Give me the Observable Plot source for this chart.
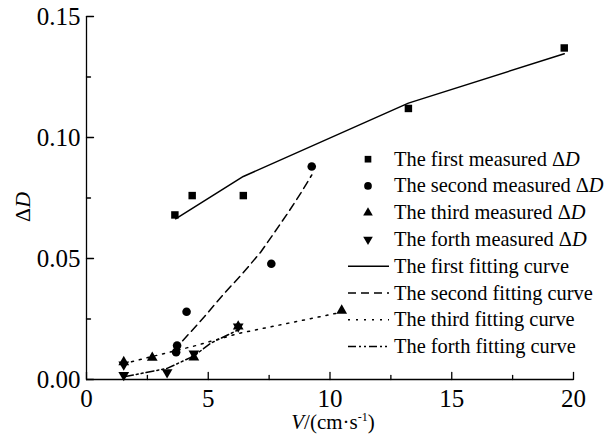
<!DOCTYPE html>
<html><head><meta charset="utf-8">
<script src="https://cdn.jsdelivr.net/npm/d3@7"></script>
<script src="https://cdn.jsdelivr.net/npm/@observablehq/plot@0.6"></script>
<style>html,body{margin:0;padding:0;background:#fff} svg{display:block}</style>
</head><body><div id="chart"></div>
<script>
// ---- data ----
const firstV  = [3.63, 4.34, 6.44, 13.22, 19.62];
const firstD  = [0.068, 0.076, 0.076, 0.112, 0.137];
const secondV = [3.68, 3.72, 4.11, 7.59, 9.25];
const secondD = [0.0113, 0.0140, 0.0280, 0.0478, 0.0880];
const thirdV  = [1.53, 2.70, 4.41, 6.23, 10.48];
const thirdD  = [0.0072, 0.0090, 0.0091, 0.0219, 0.0285];
const forthV  = [1.53, 1.53, 3.31, 4.41, 6.23];
const forthD  = [0.0062, 0.0018, 0.0030, 0.0107, 0.0219];

const fit1V = [3.66, 6.44, 13.22, 19.62];
const fit1D = [0.0664, 0.0839, 0.1142, 0.1346];
const fit2V = [3.95, 4.82, 5.64, 6.40, 7.15, 7.70, 8.25, 8.80, 9.25];
const fit2D = [0.0160, 0.0257, 0.0354, 0.0437, 0.0526, 0.0605, 0.0685, 0.0770, 0.0845];
const fit3V = [1.53, 2.70, 4.41, 6.23, 10.48];
const fit3D = [0.0065, 0.0095, 0.0138, 0.0190, 0.0278];
const fit4V = [1.60, 3.31, 4.41, 5.10, 6.23];
const fit4D = [0.0012, 0.0046, 0.0097, 0.0150, 0.0205];

const xTicks = [0, 5, 10, 15, 20];
const xMinor = [2.5, 7.5, 12.5, 17.5];
const yTicks = [0, 0.05, 0.10, 0.15];
const yMinor = [0.025, 0.075, 0.125];

const measuredNames = ["The first measured \u0394", "The second measured \u0394", "The third measured \u0394", "The forth measured \u0394"];
const fittingNames = ["The first fitting curve", "The second fitting curve", "The third fitting curve", "The forth fitting curve"];

// ---- helpers ----
const zipXY = (xs, ys) => xs.map((v, i) => ({v, d: ys[i]}));
const s3 = Math.sqrt(3);
const triangleDown = {draw(ctx, size) {
  const y = -Math.sqrt(size / (s3 * 3));
  ctx.moveTo(0, -y * 2); ctx.lineTo(-s3 * y, y); ctx.lineTo(s3 * y, y); ctx.closePath();
}};
const tickUp = {draw(ctx, l) { ctx.moveTo(0, 0); ctx.lineTo(0, -l); }};

const FONT = "'Liberation Serif', 'Times New Roman', serif";
const dashes = [null, "8,5", "2,6", "8,3,2,3,2,3"];
const symbols = [d3.symbolSquare, d3.symbolCircle, d3.symbolTriangle, triangleDown];
const radii = [4.2, 4.3, 4.0, 4.0];
const measured = [[firstV, firstD], [secondV, secondD], [thirdV, thirdD], [forthV, forthD]];
const fits = [[fit1V, fit1D], [fit2V, fit2D], [fit3V, fit3D], [fit4V, fit4D]];

const marks = [];
marks.push(Plot.ruleX([0], {stroke: "black", strokeWidth: 1.3}));
marks.push(Plot.ruleY([0], {stroke: "black", strokeWidth: 1.3}));
// inward ticks
marks.push(Plot.vector(xTicks, {x: d => d, y: 0, length: 7, rotate: 0, anchor: "start", shape: tickUp, stroke: "black", strokeWidth: 1.3}));
marks.push(Plot.vector(xMinor, {x: d => d, y: 0, length: 4, rotate: 0, anchor: "start", shape: tickUp, stroke: "black", strokeWidth: 1.3}));
marks.push(Plot.vector(yTicks, {x: 0, y: d => d, length: 7, rotate: 90, anchor: "start", shape: tickUp, stroke: "black", strokeWidth: 1.3}));
marks.push(Plot.vector(yMinor, {x: 0, y: d => d, length: 4, rotate: 90, anchor: "start", shape: tickUp, stroke: "black", strokeWidth: 1.3}));
// tick labels
marks.push(Plot.axisX({ticks: xTicks, tickSize: 0, tickPadding: 10, fontSize: 25, fontFamily: FONT, label: null, fill: "black"}));
marks.push(Plot.axisY({ticks: yTicks, tickSize: 0, tickPadding: 6, fontSize: 25, fontFamily: FONT, tickFormat: d3.format(".2f"), label: null, fill: "black"}));
// fitting curves
fits.forEach(([xs, ys], i) => {
  marks.push(Plot.line(zipXY(xs, ys), {x: "v", y: "d", stroke: "black", strokeWidth: 1.5,
    strokeDasharray: dashes[i] || undefined, curve: "linear"}));
});
// measured points
measured.forEach(([xs, ys], i) => {
  marks.push(Plot.dot(zipXY(xs, ys), {x: "v", y: "d", symbol: symbols[i], r: radii[i], fill: "black", stroke: "none"}));
});

const plot = Plot.plot({
  width: 608, height: 438,
  marginLeft: 86, marginRight: 35, marginTop: 16, marginBottom: 59,
  x: {domain: [0, 20], axis: null},
  y: {domain: [0, 0.15], axis: null},
  style: {fontFamily: FONT, background: "white", color: "black"},
  marks
});
document.getElementById("chart").appendChild(plot);

// ---- axis titles and legend (layout) ----
const svg = d3.select(plot);
const xt = svg.append("text").attr("x", 333).attr("y", 429).attr("text-anchor", "middle")
  .attr("font-family", FONT).attr("font-size", 21).attr("fill", "black");
xt.append("tspan").attr("font-style", "italic").text("V");
xt.append("tspan").text("/(cm\u00b7s");
xt.append("tspan").attr("font-size", 12).attr("dy", -8).text("-1");
xt.append("tspan").attr("dy", 8).text(")");

const yt = svg.append("text").attr("transform", "translate(30,207) rotate(-90)").attr("text-anchor", "middle")
  .attr("font-family", FONT).attr("font-size", 22).attr("fill", "black");
yt.append("tspan").text("\u0394");
yt.append("tspan").attr("font-style", "italic").text("D");

const lg = svg.append("g").attr("font-family", FONT).attr("font-size", 20.4).attr("fill", "black")
  .attr("text-anchor", "start");
const row0 = 165.7, step = 26.76, symX = 368, textX = 394;
measuredNames.forEach((name, i) => {
  const by = row0 + step * i;
  lg.append("path").attr("transform", `translate(${symX},${by - 6.5})`)
    .attr("d", d3.symbol(symbols[i], Math.PI * radii[i] * radii[i] * 0.8)()).attr("fill", "black");
  const t = lg.append("text").attr("x", textX).attr("y", by).attr("text-anchor", "start");
  t.append("tspan").text(name);
  t.append("tspan").attr("font-style", "italic").text("D");
});
fittingNames.forEach((name, i) => {
  const by = row0 + step * (i + 4);
  const ln = lg.append("line").attr("x1", 348).attr("x2", 389).attr("y1", by - 6.5).attr("y2", by - 6.5)
    .attr("stroke", "black").attr("stroke-width", 1.5);
  if (dashes[i]) ln.attr("stroke-dasharray", dashes[i]);
  lg.append("text").attr("x", textX).attr("y", by).attr("text-anchor", "start").text(name);
});
</script>
</body></html>
